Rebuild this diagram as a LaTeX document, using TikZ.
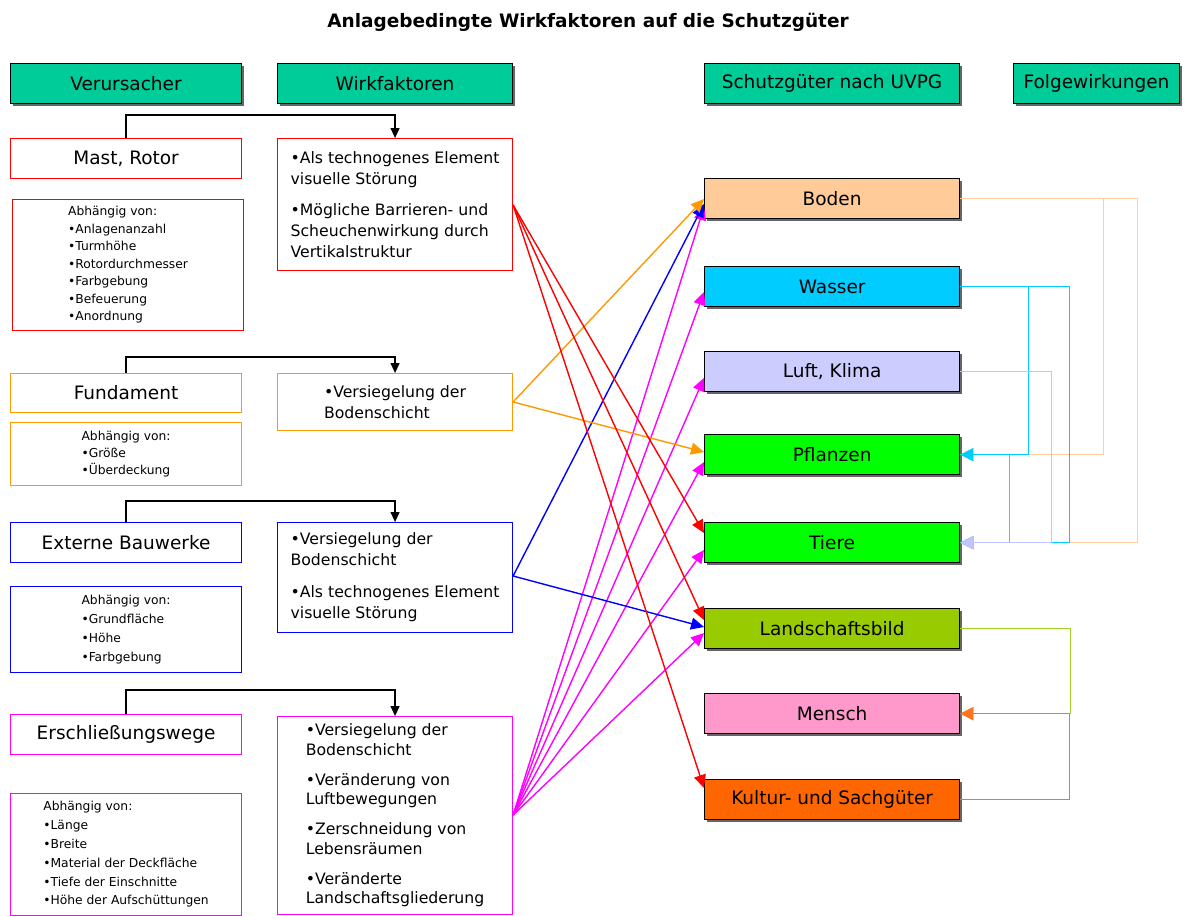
\documentclass[tikz,border=0pt]{standalone}
\usepackage{fontspec}
\setmainfont{DejaVu Sans}
\usetikzlibrary{arrows.meta,calc,shadows}

\definecolor{hdrfill}{RGB}{0,204,153}
\definecolor{cRed}{RGB}{255,0,0}
\definecolor{cOra}{RGB}{255,153,0}
\definecolor{cBlu}{RGB}{0,0,255}
\definecolor{cMag}{RGB}{255,0,255}
\definecolor{fBoden}{RGB}{255,204,153}
\definecolor{fWasser}{RGB}{0,204,255}
\definecolor{fLuft}{RGB}{204,204,255}
\definecolor{fGreen}{RGB}{0,255,0}
\definecolor{fLand}{RGB}{153,204,0}
\definecolor{fMensch}{RGB}{255,153,204}
\definecolor{fKultur}{RGB}{255,102,0}
\definecolor{lBoden}{RGB}{255,205,160}
\definecolor{lWasser}{RGB}{0,205,255}
\definecolor{lLuft}{RGB}{195,195,255}
\definecolor{lGreen}{RGB}{60,235,60}
\definecolor{lLand}{RGB}{165,210,40}
\definecolor{lKultur}{RGB}{255,115,30}

\begin{document}
\begin{tikzpicture}[x=1pt,y=-1pt,
  bigfont/.style={font=\fontsize{18.5}{22}\selectfont},
  hdrbox/.style={draw=black, line width=1pt, fill=hdrfill, inner sep=0pt,
    anchor=north west, bigfont,
    drop shadow={shadow xshift=2pt,shadow yshift=-2pt,fill=black!60,opacity=1}},
  srcbox/.style={draw, line width=1.1pt, fill=white, inner sep=0pt,
    anchor=north west, bigfont},
  depbox/.style={draw, line width=1.1pt, fill=white, inner sep=0pt,
    anchor=north west, align=left},
  effbox/.style={draw, line width=1.1pt, fill=white, inner sep=0pt,
    anchor=north west, align=left},
  tgtbox/.style={draw=black, line width=1.3pt, inner sep=0pt,
    anchor=north west, bigfont, minimum width=255, minimum height=40,
    drop shadow={shadow xshift=2pt,shadow yshift=-2pt,fill=black!60,opacity=1}},
  fan/.style={line width=1.4pt, -{Triangle[length=13pt,width=12pt]}},
  link/.style={line width=1.5pt, -{Triangle[length=13pt,width=13pt]}},
  brk/.style={line width=1.2pt, -{Triangle[length=10pt,width=9pt]}}
]
\useasboundingbox (0,0) rectangle (1184,916);

% title
\node[font=\bfseries\fontsize{18.5}{22}\selectfont] (title) at (588,22)
  {Anlagebedingte Wirkfaktoren auf die Schutzgüter};

% column headers
\node[hdrbox, minimum width=231, minimum height=40] (hV) at (10,63) {Verursacher};
\node[hdrbox, minimum width=235, minimum height=40] (hW) at (277,63) {Wirkfaktoren};
\node[hdrbox, minimum width=255, minimum height=40] (hS) at (704,63) {Schutzgüter nach UVPG};
\node[hdrbox, minimum width=166, minimum height=40] (hF) at (1013,63) {Folgewirkungen};

% Mast, Rotor
\node[srcbox, draw=cRed, minimum width=231, minimum height=40] (s1) at (10,138) {Mast, Rotor};
\node[depbox, draw=cRed, minimum width=231, minimum height=131,
  font=\fontsize{12.3}{17.5}\selectfont] (d1) at (12,199)
  {Abhängig von:\\•Anlagenanzahl\\•Turmhöhe\\•Rotordurchmesser\\•Farbgebung\\•Befeuerung\\•Anordnung};
\node[effbox, draw=cRed, minimum width=235, minimum height=132,
  font=\fontsize{15.7}{21}\selectfont] (e1) at (277,138)
  {•Als technogenes Element\\visuelle Störung\\[10pt]•Mögliche Barrieren- und\\Scheuchenwirkung durch\\Vertikalstruktur};

% Fundament
\node[srcbox, draw=cOra, minimum width=231, minimum height=39] (s2) at (10,373) {Fundament};
\node[depbox, draw=cOra, minimum width=231, minimum height=63,
  font=\fontsize{12.3}{17}\selectfont] (d2) at (10,422)
  {Abhängig von:\\•Größe\\•Überdeckung};
\node[effbox, draw=cOra, minimum width=235, minimum height=57,
  font=\fontsize{15.7}{21}\selectfont] (e2) at (277,373)
  {•Versiegelung der\\Bodenschicht};

% Externe Bauwerke
\node[srcbox, draw=cBlu, minimum width=231, minimum height=40] (s3) at (10,522) {Externe Bauwerke};
\node[depbox, draw=cBlu, minimum width=231, minimum height=86,
  font=\fontsize{12.3}{19}\selectfont] (d3) at (10,586)
  {Abhängig von:\\•Grundfläche\\•Höhe\\•Farbgebung};
\node[effbox, draw=cBlu, minimum width=235, minimum height=110,
  font=\fontsize{15.7}{21}\selectfont] (e3) at (277,522)
  {•Versiegelung der\\Bodenschicht\\[11pt]•Als technogenes Element\\visuelle Störung};

% Erschliessungswege
\node[srcbox, draw=cMag, minimum width=231, minimum height=40] (s4) at (10,714) {Erschließungswege};
\node[depbox, draw=cMag, minimum width=231, minimum height=122,
  font=\fontsize{12.3}{18.8}\selectfont] (d4) at (10,793)
  {Abhängig von:\\•Länge\\•Breite\\•Material der Deckfläche\\•Tiefe der Einschnitte\\•Höhe der Aufschüttungen};
\node[effbox, draw=cMag, minimum width=235, minimum height=198,
  font=\fontsize{15.7}{19.5}\selectfont] (e4) at (277,716)
  {•Versiegelung der\\Bodenschicht\\[10.5pt]•Veränderung von\\Luftbewegungen\\[10.5pt]•Zerschneidung von\\Lebensräumen\\[10.5pt]•Veränderte\\Landschaftsgliederung};

% cause -> effect brackets
\draw[brk] (s1.north) -- ++(0,-23) -| (e1.north);
\draw[brk] (s2.north) -- ++(0,-16) -| (e2.north);
\draw[brk] (s3.north) -- ++(0,-21) -| (e3.north);
\draw[brk] (s4.north) -- ++(0,-24) -| (e4.north);

% protected goods
\node[tgtbox, fill=fBoden]  (Boden)    at (704,178) {Boden};
\node[tgtbox, fill=fWasser] (Wasser)   at (704,266) {Wasser};
\node[tgtbox, fill=fLuft]   (Luft)     at (704,351) {Luft, Klima};
\node[tgtbox, fill=fGreen]  (Pflanzen) at (704,434) {Pflanzen};
\node[tgtbox, fill=fGreen]  (Tiere)    at (704,522) {Tiere};
\node[tgtbox, fill=fLand]   (Land)     at (704,608) {Landschaftsbild};
\node[tgtbox, fill=fMensch] (Mensch)   at (704,693) {Mensch};
\node[tgtbox, fill=fKultur] (Kultur)   at (704,779) {Kultur- und Sachgüter};

% origins of the effect arrows
\coordinate (o1) at ($(e1.north east)+(0,67)$);
\coordinate (o2) at ($(e2.north east)+(0,29)$);
\coordinate (o3) at ($(e3.north east)+(0,54)$);
\coordinate (o4) at ($(e4.north east)+(0,99)$);

% Erschliessungswege effects
\draw[fan,cMag] (o4) -- ($(Boden.north west)+(0,29)$);
\draw[fan,cMag] (o4) -- ($(Wasser.north west)+(0,26)$);
\draw[fan,cMag] (o4) -- ($(Luft.north west)+(0,27)$);
\draw[fan,cMag] (o4) -- ($(Pflanzen.north west)+(0,28)$);
\draw[fan,cMag] (o4) -- ($(Tiere.north west)+(0,28)$);
\draw[fan,cMag] (o4) -- ($(Land.north west)+(0,25)$);
% Externe Bauwerke effects
\draw[fan,cBlu] (o3) -- ($(Boden.north west)+(0,26)$);
\draw[fan,cBlu] (o3) -- ($(Land.north west)+(0,19)$);
% Fundament effects
\draw[fan,cOra] (o2) -- ($(Boden.north west)+(0,21)$);
\draw[fan,cOra] (o2) -- ($(Pflanzen.north west)+(0,18)$);
% Mast, Rotor effects
\draw[fan,cRed] (o1) -- ($(Tiere.north west)+(0,11)$);
\draw[fan,cRed] (o1) -- ($(Land.north west)+(0,12)$);
\draw[fan,cRed] (o1) -- ($(Kultur.north west)+(0,9)$);

% follow-on effects
\draw[link,lBoden] (Boden.east) -- ++(143,0) |- (Pflanzen.east);
\draw[link,lBoden] (Boden.east) -- ++(177,0) |- (Tiere.east);
\draw[link,lGreen] (Pflanzen.east) -- ++(49,0) |- (Tiere.east);
\draw[link,lWasser] (Wasser.east) -- ++(68,0) |- (Pflanzen.east);
\draw[link,lWasser] (Wasser.east) -- ++(109,0) |- (Tiere.east);
\draw[link,lLuft] (Luft.east) -- ++(91,0) |- (Tiere.east);
\draw[link,lLand] (Land.east) -- ++(110,0) |- (Mensch.east);
\draw[link,lKultur] (Kultur.east) -- ++(109,0) |- (Mensch.east);
\end{tikzpicture}
\end{document}
